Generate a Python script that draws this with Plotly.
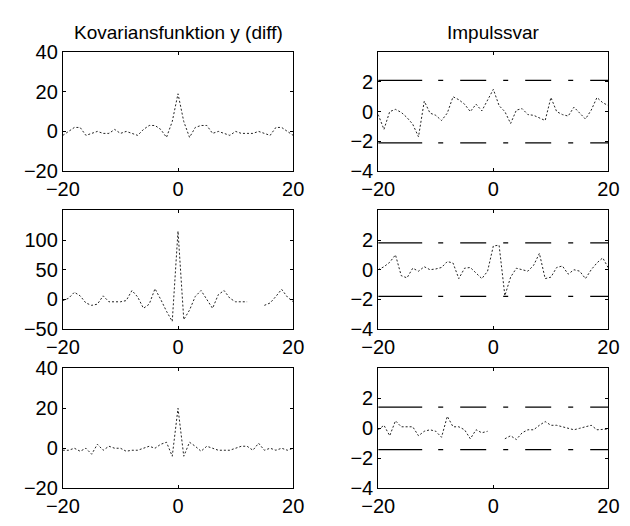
import plotly.graph_objects as go

# Lags shared by all six panels
lags = list(range(-20, 21))

# Covariance function of y (diff), three cases
cov_y1 = [-2, 0, 2, 2, -2, -1, 0, -1, -1, 1, -1, 0, -1, -2, 1, 3, 3, 1, -3, 5,
          19,
          5, -3, 2, 3, 3, -1, 0, -1, -2, 0, -1, -1, -1, 0, -1, -2, 2, 2, 0, -2]
cov_y2 = [-2, 2, 12, 6, -6, -10, -8, 6, -4, -4, -4, -2, 15, 4, -15, -8, 18, 0, -20, -37,
          115,
          -34, -18, 5, 15, 0, -15, 8, 15, 2, -4, -4, -4, None, None, -10, -6, 5, 17, 4, -4]
cov_y3 = [-1, -1, 0, -1.5, 0, -3, 2, -1, 1, 0, 0, -1.5, -1, -1, 0, 1, 0, 2, 3, -4,
          20,
          -4, 3, 1, -1.5, 1, 0, -1, -1, -1, 0, 1, 1, -1, 2.5, -1, 0, -1, 0, -1, 0]

# Impulse response estimates, three cases
imp_1 = [-0.2, -1.2, 0.0, 0.15, -0.05, -0.4, -0.85, -1.7, 0.7, -0.1, -0.25, -0.6, -0.1, 1.0, 0.8, 0.5, 0.0, 0.5, 0.05, 0.8,
         1.5,
         0.4, 0.0, -0.8, 0.1, 0.2, -0.2, -0.25, -0.4, -0.6, 0.95, 0.0, -0.2, -0.3, 0.3, -0.1, -0.5, 0.1, 0.95, 0.6, 0.4]
imp_2 = [0.0, 0.2, 0.5, 1.0, -0.4, -0.55, 0.1, -0.1, 0.2, 0.0, 0.05, 0.15, 0.55, 0.45, -0.6, 0.1, 0.15, -0.2, -0.6, -0.1,
         1.6,
         1.65, -1.75, -0.5, 0.1, 0.0, -0.1, 0.3, 1.1, -0.6, -0.5, 0.15, 0.25, -0.3, 0.0, -0.1, -0.6, 0.0, 0.46, 0.8, 0.1]
imp_3 = [-0.1, 0.2, -0.5, 0.5, 0.1, 0.1, 0.1, -0.5, -0.2, -0.1, -0.2, -0.6, 0.8, 0.1, 0.1, -0.1, -0.7, -0.1, -0.3, -0.2,
         None,
         None, -0.7, -0.5, -0.75, -0.3, -0.1, -0.1, 0.2, 0.45, 0.2, 0.2, 0.1, 0.0, -0.1, 0.0, 0.1, 0.2, -0.1, -0.1, -0.05]

# Confidence bounds (+/-) for each impulse response
conf_levels = [2.1, 1.8, 1.42]

cov_series = [cov_y1, cov_y2, cov_y3]
imp_series = [imp_1, imp_2, imp_3]
cov_ranges = [[-20, 40], [-50, 150], [-20, 40]]
cov_ticks = [[-20, 0, 20, 40], [-50, 0, 50, 100], [-20, 0, 20, 40]]
imp_range = [-4, 4]
imp_ticks = [-4, -2, 0, 2]
x_range = [-20, 20]
x_ticks = [-20, 0, 20]
titles = ["Kovariansfunktion y (diff)", "Impulssvar"]

W, H = 630, 526
col_px = [(48, 289), (378, 619)]
row_px = [(43, 167), (208, 332), (373, 498)]

FONT = "Liberation Sans, Arial, sans-serif"
DOTTED = "2px,2px"
DASHDOT = "44px,16px,5px,17px,26px,17px,5px,17px,26px,17px,5px,17px,26px,17px,5px,17px,26px"

fig = go.Figure()
layout = dict(
    width=W, height=H,
    margin=dict(l=0, r=0, t=0, b=0),
    paper_bgcolor="white", plot_bgcolor="white",
    showlegend=False,
    font=dict(family=FONT, size=20, color="black"),
)

axis_common = dict(
    showgrid=False, zeroline=False,
    showline=True, linecolor="black", linewidth=1, mirror="ticks",
    ticks="inside", ticklen=3, tickwidth=1, tickcolor="black",
    tickfont=dict(family=FONT, size=20, color="black"),
)

k = 0
for r in range(3):
    for c in range(2):
        k += 1
        xname = "xaxis" if k == 1 else f"xaxis{k}"
        yname = "yaxis" if k == 1 else f"yaxis{k}"
        xref = "x" if k == 1 else f"x{k}"
        yref = "y" if k == 1 else f"y{k}"
        x0, x1 = col_px[c]
        y0, y1 = row_px[r]
        layout[xname] = dict(axis_common, domain=[x0 / W, x1 / W], range=x_range,
                             tickvals=x_ticks, anchor=yref)
        if c == 0:
            yr, yt = cov_ranges[r], cov_ticks[r]
        else:
            yr, yt = imp_range, imp_ticks
        layout[yname] = dict(axis_common, domain=[1 - y1 / H, 1 - y0 / H], range=yr,
                             tickvals=yt, anchor=xref)

        if c == 0:
            fig.add_trace(go.Scatter(
                x=lags, y=cov_series[r], mode="lines", xaxis=xref, yaxis=yref,
                line=dict(color="#222222", width=1, dash=DOTTED),
                connectgaps=False, hoverinfo="skip"))
        else:
            lvl = conf_levels[r]
            for sgn in (1, -1):
                fig.add_trace(go.Scatter(
                    x=[x_range[0], x_range[1]], y=[sgn * lvl, sgn * lvl],
                    mode="lines", xaxis=xref, yaxis=yref,
                    line=dict(color="black", width=1.2, dash=DASHDOT),
                    hoverinfo="skip"))
            fig.add_trace(go.Scatter(
                x=lags, y=imp_series[r], mode="lines", xaxis=xref, yaxis=yref,
                line=dict(color="#222222", width=1, dash=DOTTED),
                connectgaps=False, hoverinfo="skip"))

annotations = []
for c in range(2):
    x0, x1 = col_px[c]
    annotations.append(dict(
        text=titles[c], x=(x0 + x1) / 2 / W, y=1 - 22 / H,
        xref="paper", yref="paper", xanchor="center", yanchor="middle",
        showarrow=False, font=dict(family=FONT, size=19, color="black")))
layout["annotations"] = annotations

fig.update_layout(**layout)
fig.write_html("out.html")
